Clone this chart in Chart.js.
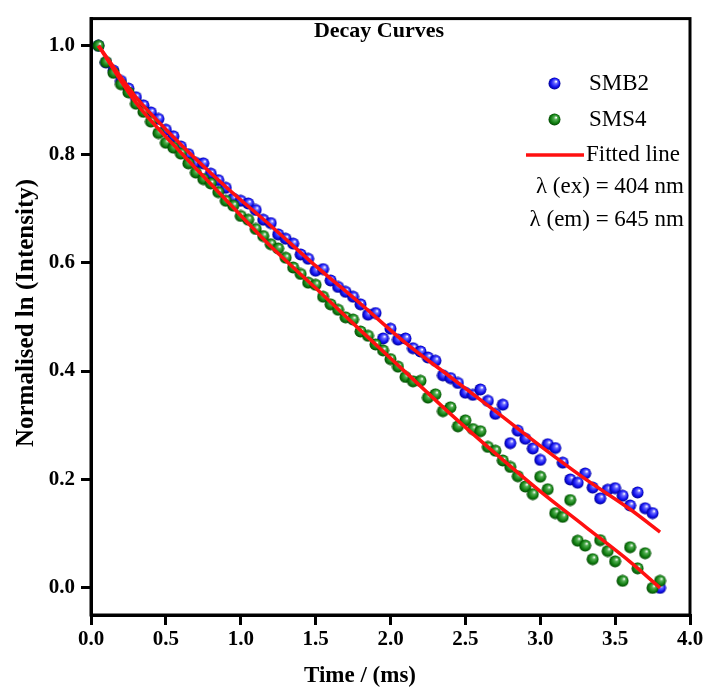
<!DOCTYPE html>
<html>
<head>
<meta charset="utf-8">
<script src="https://cdn.jsdelivr.net/npm/chart.js@4.4.1/dist/chart.umd.min.js"></script>
<style>
  html, body { margin: 0; padding: 0; background: #fff; }
  #wrap { width: 707px; height: 692px; }
</style>
</head>
<body>
<div id="wrap"><canvas id="myChart" width="707" height="692"></canvas></div>
<script>
// time axis (ms), one sample every 0.05 ms
var times = [0.05,0.10,0.15,0.20,0.25,0.30,0.35,0.40,0.45,0.50,
             0.55,0.60,0.65,0.70,0.75,0.80,0.85,0.90,0.95,1.00,
             1.05,1.10,1.15,1.20,1.25,1.30,1.35,1.40,1.45,1.50,
             1.55,1.60,1.65,1.70,1.75,1.80,1.85,1.90,1.95,2.00,
             2.05,2.10,2.15,2.20,2.25,2.30,2.35,2.40,2.45,2.50,
             2.55,2.60,2.65,2.70,2.75,2.80,2.85,2.90,2.95,3.00,
             3.05,3.10,3.15,3.20,3.25,3.30,3.35,3.40,3.45,3.50,
             3.55,3.60,3.65,3.70,3.75,3.80];

var smb2 = [1.000,0.969,0.954,0.935,0.921,0.905,0.890,0.877,0.865,0.845,
            0.833,0.814,0.800,0.784,0.783,0.764,0.752,0.738,0.718,0.714,
            0.709,0.697,0.679,0.673,0.652,0.644,0.635,0.615,0.607,0.585,
            0.588,0.567,0.555,0.546,0.537,0.523,0.504,0.507,0.460,0.478,
            0.458,0.460,0.442,0.436,0.425,0.419,0.392,0.387,0.378,0.360,
            0.356,0.366,0.345,0.321,0.338,0.267,0.290,0.275,0.257,0.236,
            0.265,0.258,0.231,0.200,0.194,0.211,0.185,0.165,0.181,0.184,
            0.170,0.152,0.176,0.147,0.138,0.000];

var sms4 = [1.000,0.970,0.950,0.929,0.914,0.893,0.878,0.860,0.839,0.821,
            0.812,0.801,0.783,0.766,0.754,0.746,0.730,0.714,0.705,0.686,
            0.679,0.662,0.649,0.634,0.626,0.609,0.591,0.579,0.563,0.559,
            0.537,0.523,0.513,0.499,0.495,0.473,0.465,0.449,0.438,0.422,
            0.408,0.389,0.381,0.382,0.351,0.357,0.326,0.333,0.298,0.309,
            0.293,0.289,0.260,0.253,0.235,0.223,0.206,0.187,0.173,0.205,
            0.182,0.138,0.131,0.162,0.087,0.078,0.053,0.088,0.068,0.049,
            0.013,0.075,0.036,0.064,0.000,0.013];

// fitted curves
var fitTimes = [0.05,0.3,0.6,0.9,1.2,1.5,1.8,2.1,2.4,2.7,3.0,3.3,3.6,3.8];
var fitSmb2  = [1.000,0.905,0.818,0.740,0.668,0.594,0.524,0.452,0.389,0.326,0.262,0.201,0.145,0.103];
var fitSms4  = [1.000,0.895,0.803,0.716,0.630,0.553,0.475,0.398,0.321,0.248,0.178,0.113,0.048,0.000];

var xTicks = [0, 0.5, 1.0, 1.5, 2.0, 2.5, 3.0, 3.5, 4.0];
var yTicks = [0, 0.2, 0.4, 0.6, 0.8, 1.0];

function pts(xs, ys) {
    return xs.map(function (x, i) { return { x: x, y: ys[i] }; });
}

// little shaded ball like the original markers
function ball(light, base, dark) {
    var c = document.createElement('canvas');
    c.width = 13; c.height = 13;
    var g = c.getContext('2d');
    var grd = g.createRadialGradient(8.2, 4.4, 0.3, 6.5, 6.5, 6.2);
    grd.addColorStop(0, '#ffffff');
    grd.addColorStop(0.25, light);
    grd.addColorStop(0.68, base);
    grd.addColorStop(1, dark);
    g.fillStyle = grd;
    g.beginPath();
    g.arc(6.5, 6.5, 6, 0, Math.PI * 2);
    g.fill();
    return c;
}
var blueBall = ball('#6a6aff', '#1010f0', '#00008a');
var greenBall = ball('#55b055', '#117f11', '#004400');

var serif = "'Liberation Serif', 'Times New Roman', serif";

var decoration = {
    id: 'decoration',
    afterDraw: function (chart) {
        var ctx = chart.ctx;
        var a = chart.chartArea;
        ctx.save();
        // frame
        ctx.strokeStyle = '#000';
        ctx.lineWidth = 3;
        ctx.strokeRect(a.left, a.top, a.right - a.left, a.bottom - a.top);

        ctx.fillStyle = '#000';
        ctx.textBaseline = 'middle';

        ctx.font = 'bold 22px ' + serif;
        ctx.textAlign = 'center';
        ctx.fillText('Decay Curves', 379, 31);

        ctx.font = 'bold 23px ' + serif;
        ctx.fillText('Time / (ms)', 360, 676);

        ctx.save();
        ctx.font = 'bold 25px ' + serif;
        ctx.translate(27, 313);
        ctx.rotate(-Math.PI / 2);
        ctx.fillText('Normalised ln (Intensity)', 0, 0);
        ctx.restore();

        // legend
        ctx.font = '23px ' + serif;
        ctx.textAlign = 'left';
        ctx.drawImage(blueBall, 548, 77);
        ctx.fillText('SMB2', 589, 84);
        ctx.drawImage(greenBall, 548, 113);
        ctx.fillText('SMS4', 589, 120);
        ctx.strokeStyle = '#ff1010';
        ctx.lineWidth = 3.5;
        ctx.beginPath();
        ctx.moveTo(526, 155);
        ctx.lineTo(584, 155);
        ctx.stroke();
        ctx.fillText('Fitted line', 586, 155);
        ctx.textAlign = 'right';
        ctx.fillText('\u03bb (ex) = 404 nm', 684, 187);
        ctx.fillText('\u03bb (em) = 645 nm', 684, 220);
        ctx.restore();
    }
};

var ctx = document.getElementById('myChart').getContext('2d');
var myChart = new Chart(ctx, {
    type: 'scatter',
    data: {
        datasets: [{
            label: 'Fitted line SMB2',
            data: pts(fitTimes, fitSmb2),
            showLine: true,
            borderColor: '#ff1010',
            borderWidth: 3.5,
            pointRadius: 0,
            cubicInterpolationMode: 'monotone',
            order: 0
        },
        {
            label: 'Fitted line SMS4',
            data: pts(fitTimes, fitSms4),
            showLine: true,
            borderColor: '#ff1010',
            borderWidth: 3.5,
            pointRadius: 0,
            cubicInterpolationMode: 'monotone',
            order: 0
        },
        {
            label: 'SMS4',
            data: pts(times, sms4),
            pointStyle: greenBall,
            backgroundColor: '#117f11',
            order: 1
        },
        {
            label: 'SMB2',
            data: pts(times, smb2),
            pointStyle: blueBall,
            backgroundColor: '#1010f0',
            order: 2
        }]
    },
    options: {
        responsive: false,
        animation: false,
        layout: { padding: { left: 0, right: 17, top: 8, bottom: 0 } },
        plugins: {
            legend: { display: false },
            tooltip: { enabled: false }
        },
        scales: {
            x: {
                type: 'linear',
                min: 0,
                max: 4,
                afterBuildTicks: function (s) { s.ticks = xTicks.map(function (v) { return { value: v }; }); },
                afterFit: function (s) { s.height = 77; },
                ticks: {
                    color: '#000',
                    padding: 2,
                    maxRotation: 0,
                    font: { family: serif, weight: 'bold', size: 21 },
                    callback: function (v) { return Number(v).toFixed(1); }
                },
                grid: {
                    drawOnChartArea: false,
                    color: '#000',
                    lineWidth: 3,
                    tickLength: 10
                },
                border: { color: '#000', width: 3 }
            },
            y: {
                type: 'linear',
                min: -0.05,
                max: 1.05,
                afterBuildTicks: function (s) { s.ticks = yTicks.map(function (v) { return { value: v }; }); },
                afterFit: function (s) { s.width = 91; },
                ticks: {
                    color: '#000',
                    padding: 6,
                    font: { family: serif, weight: 'bold', size: 21 },
                    callback: function (v) { return Number(v).toFixed(1); }
                },
                grid: {
                    drawOnChartArea: false,
                    color: '#000',
                    lineWidth: 3,
                    tickLength: 10
                },
                border: { color: '#000', width: 3 }
            }
        }
    },
    plugins: [decoration]
});
</script>
</body>
</html>
